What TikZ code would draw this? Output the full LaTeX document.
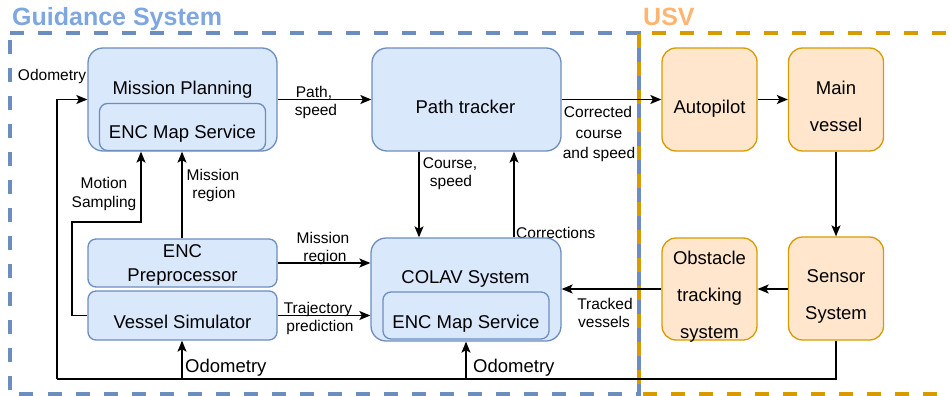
\documentclass[tikz,border=0pt]{standalone}
\usepackage{fontspec}
\setmainfont{Liberation Sans}
\usetikzlibrary{arrows.meta}
\definecolor{gsblue}{HTML}{6C8EBF}
\definecolor{gsfill}{HTML}{DAE8FC}
\definecolor{gstitle}{HTML}{7EA6E0}
\definecolor{usvorange}{HTML}{D79B00}
\definecolor{usvfill}{HTML}{FFE6CC}
\definecolor{usvtitle}{HTML}{FFB570}
\begin{document}
\begin{tikzpicture}[x=1pt,y=-1pt,
  bluebox/.style={draw=gsblue, fill=gsfill, line width=1.3pt, inner sep=0pt},
  orangebox/.style={draw=usvorange, fill=usvfill, line width=1.3pt, inner sep=0pt},
  txt/.style={font=\fontsize{18.5}{22}\selectfont, inner sep=0pt, anchor=base},
  lbl/.style={font=\fontsize{15.5}{18}\selectfont, inner sep=0pt, anchor=base},
  title/.style={font=\fontsize{25}{28}\selectfont\bfseries, inner sep=0pt, anchor=base west},
  arr/.style={draw=black, line width=1.3pt, -{Stealth[length=11pt, width=9pt, inset=2.5pt]}},
  wire/.style={draw=black, line width=1.3pt},
  frame/.style={line width=4pt, dash pattern=on 14pt off 14pt}]

\useasboundingbox (0,0) rectangle (950,396);
\clip (0,0) rectangle (950,396);

% group frames
\draw[frame, gsblue] (9.5,33) -- (639,33) -- (639,394) -- (9.5,394) -- cycle;
\draw[frame, usvorange, dash phase=14pt] (960,33) -- (639,33) -- (639,394) -- (960,394);
\node[title, text=gstitle] (gstitle) at (12,26) {Guidance System};
\node[title, text=usvtitle] (usvtitle) at (643,26) {USV};

% label drawn below the COLAV box edge
\node[lbl, anchor=base west] (lcorr) at (516,238.5) {Corrections};

% guidance system blocks
\node[bluebox, rounded corners=15pt, minimum width=189pt, minimum height=103pt] (mp) at (182.5,99.5) {};
\node[bluebox, rounded corners=8pt, minimum width=166pt, minimum height=47pt] (mpenc) at (182.5,127) {};
\node[txt] (mptxt) at (182.5,94) {Mission Planning};
\node[txt] (mpenctxt) at (182.5,138) {ENC Map Service};

\node[bluebox, rounded corners=15pt, minimum width=189pt, minimum height=103pt] (pt) at (466.5,99.5) {};
\node[txt] (pttxt) at (465.5,113) {Path tracker};

\node[bluebox, rounded corners=8pt, minimum width=189pt, minimum height=48pt] (pre) at (182.5,263) {};
\node[txt] (pretxt1) at (182.5,257) {ENC};
\node[txt] (pretxt2) at (182.5,281.5) {Preprocessor};

\node[bluebox, rounded corners=8pt, minimum width=189pt, minimum height=49pt] (vs) at (182.5,315.5) {};
\node[txt] (vstxt) at (182.5,328) {Vessel Simulator};

\node[bluebox, rounded corners=15pt, minimum width=190pt, minimum height=103pt] (colav) at (466,289.5) {};
\node[bluebox, rounded corners=8pt, minimum width=166pt, minimum height=47pt] (colavenc) at (466,315.5) {};
\node[txt] (colavtxt) at (465.5,283) {COLAV System};
\node[txt] (colavenctxt) at (466,328) {ENC Map Service};

% USV blocks
\node[orangebox, rounded corners=14pt, minimum width=95pt, minimum height=103pt] (ap) at (709.5,99.5) {};
\node[txt] (aptxt) at (709.5,113) {Autopilot};

\node[orangebox, rounded corners=14pt, minimum width=95pt, minimum height=103pt] (mv) at (836,99.5) {};
\node[txt] (mvtxt1) at (836,94) {Main};
\node[txt] (mvtxt2) at (836,131.5) {vessel};

\node[orangebox, rounded corners=14pt, minimum width=95pt, minimum height=102pt] (ot) at (709.5,289) {};
\node[txt] (ottxt1) at (709.5,264) {Obstacle};
\node[txt] (ottxt2) at (709.5,301.5) {tracking};
\node[txt] (ottxt3) at (709.5,338.5) {system};

\node[orangebox, rounded corners=14pt, minimum width=95pt, minimum height=103pt] (ss) at (836,288.5) {};
\node[txt] (sstxt1) at (836,282) {Sensor};
\node[txt] (sstxt2) at (836,319.5) {System};

% odometry feedback bus
\coordinate (odoR) at (836,379);
\coordinate (odoL) at (57,379);
\coordinate (odoVS) at (182,379);
\coordinate (odoCO) at (466,379);
\draw[wire] (ss.south) -- (odoR) -- (odoL);
\draw[arr] (odoL) |- (mp.west);
\draw[arr] (odoVS) -- (odoVS |- vs.south);
\draw[arr] (odoCO) -- (colav.south);

% forward chain
\draw[arr] (mp.east) -- (pt.west);
\draw[arr] (pt.east) -- (ap.west);
\draw[arr] (ap.east) -- (mv.west);
\draw[arr] (mv.south) -- (ss.north);
\draw[arr] (ss.west |- 0,289) -- (ot.east |- 0,289);
\draw[arr] (ot.west |- 0,289) -- (colav.east |- 0,289);

% path tracker <-> COLAV
\coordinate (ptdown) at (419,0);
\coordinate (ptup) at (514,0);
\draw[arr] (pt.south -| ptdown) -- (colav.north -| ptdown);
\draw[arr] (colav.north -| ptup) -- (pt.south -| ptup);

% inputs to COLAV
\draw[arr] (pre.east) -- (pre.east -| colav.west);
\draw[arr] (vs.east) -- (vs.east -| colav.west);

% inputs to mission planning
\coordinate (mrx) at (182,0);
\draw[arr] (pre.north -| mrx) -- (mp.south -| mrx);
\coordinate (msA) at (72,315.5);
\coordinate (msB) at (141,222);
\draw[arr] (vs.west) -- (msA) |- (msB) -- (msB |- mp.south);

% connector labels
\node[lbl] (lodo1) at (52,81) {Odometry};
\node[lbl] (lpath1) at (314,97) {Path,};
\node[lbl] (lpath2) at (316,115) {speed};
\node[lbl] (lmot1) at (104,188) {Motion};
\node[lbl] (lmot2) at (104,207) {Sampling};
\node[lbl] (lmr1) at (213,180) {Mission};
\node[lbl] (lmr2) at (214,198) {region};
\node[lbl] (lcs1) at (450,168) {Course,};
\node[lbl] (lcs2) at (451,186) {speed};
\node[lbl] (lcc1) at (598,117) {Corrected};
\node[lbl] (lcc2) at (599,138) {course};
\node[lbl] (lcc3) at (599,158) {and speed};
\node[lbl] (lmr3) at (323,243) {Mission};
\node[lbl] (lmr4) at (325,261) {region};
\node[lbl] (ltr1) at (318,313) {Trajectory};
\node[lbl] (ltr2) at (320,331) {prediction};
\node[lbl] (ltv1) at (605,309) {Tracked};
\node[lbl] (ltv2) at (604,327) {vessels};
\node[txt, anchor=base west] (lodo2) at (185,372) {Odometry};
\node[txt, anchor=base west] (lodo3) at (473,372) {Odometry};
\end{tikzpicture}
\end{document}
